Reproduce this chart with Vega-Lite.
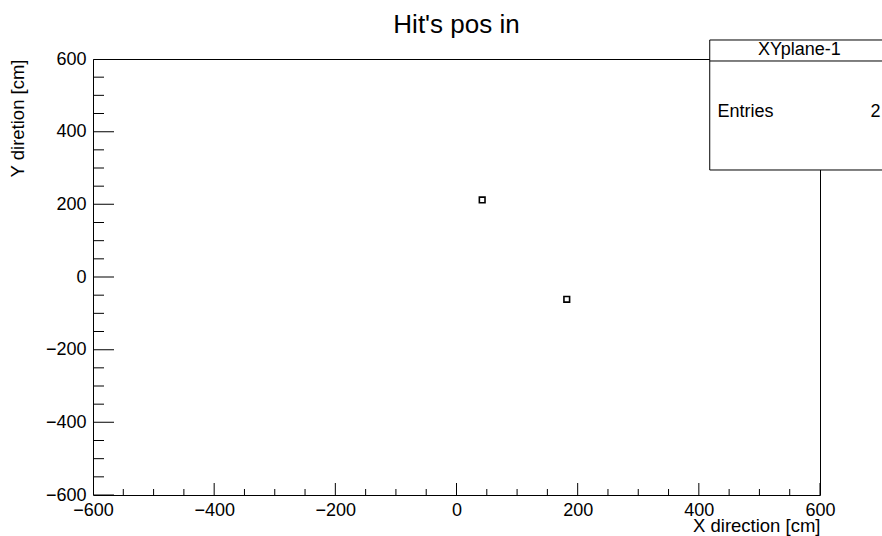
{
  "$schema": "https://vega.github.io/schema/vega-lite/v6.json",
  "autosize": "none",
  "width": 727,
  "height": 436,
  "padding": {"left": 93, "top": 59, "right": 62, "bottom": 41},
  "background": "white",
  "title": {"text": "Hit's pos in", "font": "Liberation Sans", "fontSize": 26, "fontWeight": "normal", "color": "black", "anchor": "middle", "baseline": "alphabetic", "offset": 9, "dy": 29},
  "config": {
    "view": {"stroke": "black", "strokeWidth": 1},
    "axis": {"labelFont": "Liberation Sans", "titleFont": "Liberation Sans", "labelColor": "black", "titleColor": "black", "labelFontSize": 18, "titleFontSize": 18.5, "titleFontWeight": "normal", "grid": false, "domain": false, "ticks": false, "tickSize": 0, "labelOverlap": false, "labelFlush": false}
  },
  "datasets": {
    "hits": [{"x": 42.4, "y": 212}, {"x": 182, "y": -61.3}],
    "ticks": [
      {"v": -600, "kind": "major"}, {"v": -550, "kind": "minor"}, {"v": -500, "kind": "minor"}, {"v": -450, "kind": "minor"},
      {"v": -400, "kind": "major"}, {"v": -350, "kind": "minor"}, {"v": -300, "kind": "minor"}, {"v": -250, "kind": "minor"},
      {"v": -200, "kind": "major"}, {"v": -150, "kind": "minor"}, {"v": -100, "kind": "minor"}, {"v": -50, "kind": "minor"},
      {"v": 0, "kind": "major"}, {"v": 50, "kind": "minor"}, {"v": 100, "kind": "minor"}, {"v": 150, "kind": "minor"},
      {"v": 200, "kind": "major"}, {"v": 250, "kind": "minor"}, {"v": 300, "kind": "minor"}, {"v": 350, "kind": "minor"},
      {"v": 400, "kind": "major"}, {"v": 450, "kind": "minor"}, {"v": 500, "kind": "minor"}, {"v": 550, "kind": "minor"},
      {"v": 600, "kind": "major"}
    ],
    "box": [{"x1": 418, "x2": 760, "y1": 294.5, "y2": 652.3}],
    "divider": [{"x1": 418, "x2": 760, "y": 594.5}],
    "boxtext": [{"x": 566, "y": 624, "label": "XYplane-1"}],
    "entries": [{"x": 430.8, "y": 454, "label": "Entries"}],
    "count": [{"x": 700, "y": 454, "label": "2"}]
  },
  "layer": [
    {
      "data": {"name": "ticks"},
      "transform": [{"filter": "datum.kind === 'major'"}],
      "mark": {"type": "tick", "orient": "vertical", "size": 24, "thickness": 1, "color": "black", "opacity": 1, "clip": true},
      "encoding": {
        "x": {"field": "v", "type": "quantitative", "scale": {"domain": [-600, 600], "nice": false, "zero": false},
          "axis": {"title": "X direction [cm]", "titleAnchor": "end", "titlePadding": -3,
            "values": [-600, -400, -200, 0, 200, 400, 600], "labelPadding": 6}},
        "y": {"datum": -600, "type": "quantitative", "scale": {"domain": [-600, 600], "nice": false, "zero": false},
          "axis": {"title": "Y diretion [cm]", "titleAnchor": "end", "titlePadding": 18,
            "values": [-600, -400, -200, 0, 200, 400, 600], "labelPadding": 7}}
      }
    },
    {
      "data": {"name": "ticks"},
      "transform": [{"filter": "datum.kind === 'minor'"}],
      "mark": {"type": "tick", "orient": "vertical", "size": 12, "thickness": 1, "color": "black", "opacity": 1, "clip": true},
      "encoding": {
        "x": {"field": "v", "type": "quantitative"},
        "y": {"datum": -600, "type": "quantitative"}
      }
    },
    {
      "data": {"name": "ticks"},
      "transform": [{"filter": "datum.kind === 'major'"}],
      "mark": {"type": "tick", "orient": "horizontal", "size": 42, "thickness": 1, "color": "black", "opacity": 1, "clip": true},
      "encoding": {
        "y": {"field": "v", "type": "quantitative"},
        "x": {"datum": -600, "type": "quantitative"}
      }
    },
    {
      "data": {"name": "ticks"},
      "transform": [{"filter": "datum.kind === 'minor'"}],
      "mark": {"type": "tick", "orient": "horizontal", "size": 22, "thickness": 1, "color": "black", "opacity": 1, "clip": true},
      "encoding": {
        "y": {"field": "v", "type": "quantitative"},
        "x": {"datum": -600, "type": "quantitative"}
      }
    },
    {
      "data": {"name": "hits"},
      "mark": {"type": "point", "shape": "square", "filled": false, "stroke": "black", "strokeWidth": 1.6, "size": 32, "opacity": 1},
      "encoding": {
        "x": {"field": "x", "type": "quantitative"},
        "y": {"field": "y", "type": "quantitative"}
      }
    },
    {
      "data": {"name": "box"},
      "mark": {"type": "rect", "fill": "white", "stroke": "black", "strokeWidth": 1},
      "encoding": {
        "x": {"field": "x1", "type": "quantitative"},
        "x2": {"field": "x2"},
        "y": {"field": "y1", "type": "quantitative"},
        "y2": {"field": "y2"}
      }
    },
    {
      "data": {"name": "divider"},
      "mark": {"type": "rule", "stroke": "black", "strokeWidth": 1},
      "encoding": {
        "x": {"field": "x1", "type": "quantitative"},
        "x2": {"field": "x2"},
        "y": {"field": "y", "type": "quantitative"}
      }
    },
    {
      "data": {"name": "boxtext"},
      "mark": {"type": "text", "font": "Liberation Sans", "fontSize": 18, "color": "black", "align": "center", "baseline": "middle"},
      "encoding": {
        "x": {"field": "x", "type": "quantitative"},
        "y": {"field": "y", "type": "quantitative"},
        "text": {"field": "label"}
      }
    },
    {
      "data": {"name": "entries"},
      "mark": {"type": "text", "font": "Liberation Sans", "fontSize": 18, "color": "black", "align": "left", "baseline": "middle"},
      "encoding": {
        "x": {"field": "x", "type": "quantitative"},
        "y": {"field": "y", "type": "quantitative"},
        "text": {"field": "label"}
      }
    },
    {
      "data": {"name": "count"},
      "mark": {"type": "text", "font": "Liberation Sans", "fontSize": 18, "color": "black", "align": "right", "baseline": "middle"},
      "encoding": {
        "x": {"field": "x", "type": "quantitative"},
        "y": {"field": "y", "type": "quantitative"},
        "text": {"field": "label"}
      }
    }
  ]
}
